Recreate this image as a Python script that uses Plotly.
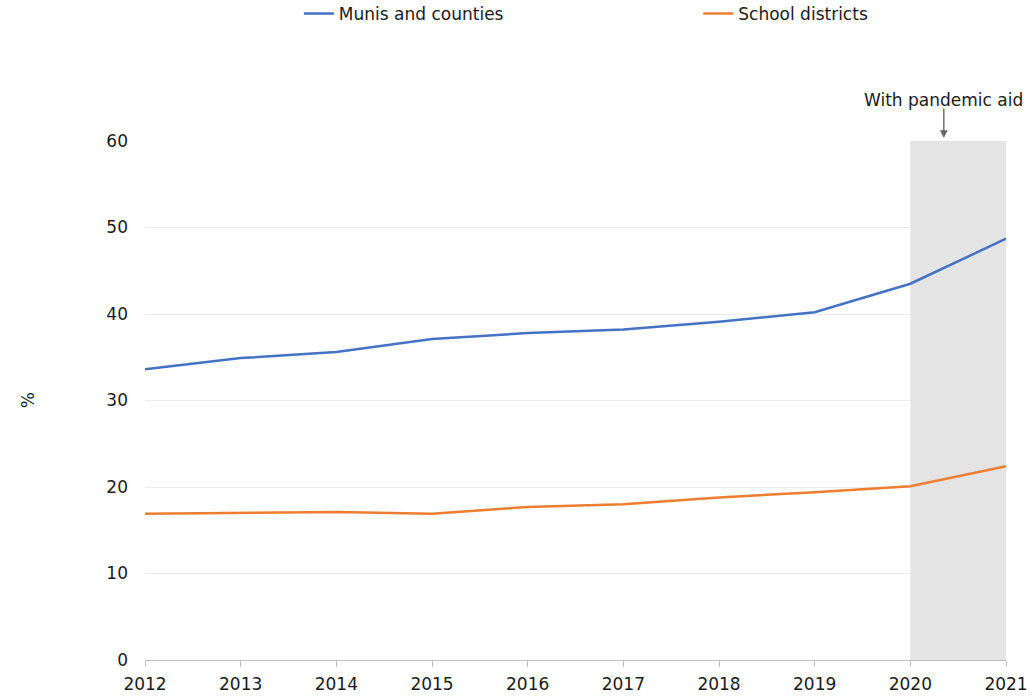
import plotly.graph_objects as go

years = [2012, 2013, 2014, 2015, 2016, 2017, 2018, 2019, 2020, 2021]
munis = [33.6, 34.9, 35.6, 37.1, 37.8, 38.2, 39.1, 40.2, 43.5, 48.7]
schools = [16.9, 17.0, 17.1, 16.9, 17.7, 18.0, 18.8, 19.4, 20.1, 22.4]
series_names = ["Munis and counties", "School districts"]
y_ticks = [0, 10, 20, 30, 40, 50, 60]

FONT = "DejaVu Sans"
FS = 17
TXT = "#1a1a1a"

fig = go.Figure()
fig.add_trace(go.Scatter(x=years, y=munis, mode="lines", name=series_names[0],
                         line=dict(color="#4472C4", width=2.5), legend="legend"))
fig.add_trace(go.Scatter(x=years, y=schools, mode="lines", name=series_names[1],
                         line=dict(color="#ED7D31", width=2.5), legend="legend2"))

fig.add_shape(type="rect", xref="x", yref="y", x0=2020, x1=2021, y0=0, y1=60,
              fillcolor="#e4e4e4", line=dict(width=0), layer="between")

fig.add_annotation(x=2020.35, y=1.0, xref="x", yref="paper", yshift=3, text="", showarrow=True,
                   ax=0, ay=-31, arrowhead=2, arrowsize=1.1, arrowwidth=1.4, arrowcolor="#666666")
fig.add_annotation(x=2020.35, y=1.0, xref="x", yref="paper", yshift=53, text="With pandemic aid",
                   showarrow=False, font=dict(family=FONT, size=FS, color=TXT))
fig.add_annotation(x=-0.150, y=0.5, xref="paper", yref="paper", text="%", textangle=-90,
                   showarrow=False, font=dict(family=FONT, size=FS, color=TXT))

leg_common = dict(orientation="h", yanchor="middle", xanchor="left",
                  font=dict(family=FONT, size=FS, color=TXT), bgcolor="rgba(0,0,0,0)")

fig.update_layout(
    width=1030, height=696,
    margin=dict(l=145, r=24, t=141, b=36, autoexpand=False),
    paper_bgcolor="white", plot_bgcolor="white",
    font=dict(family=FONT, size=FS, color=TXT),
    showlegend=True,
    legend=dict(x=0.1787, y=1.245, **leg_common),
    legend2=dict(x=0.6426, y=1.245, **leg_common),
    xaxis=dict(range=[2012, 2021], tickvals=years, ticktext=[str(y) for y in years],
               showgrid=False, showline=True, linecolor="#bfbfbf", linewidth=1,
               ticks="outside", ticklen=6, tickcolor="#bfbfbf", zeroline=False,
               ticklabelstandoff=3, tickfont=dict(family=FONT, size=FS, color=TXT)),
    yaxis=dict(range=[0, 60], tickvals=y_ticks, showgrid=True, gridcolor="#ebebeb", gridwidth=1,
               zeroline=False, showline=False, ticks="", ticklabelstandoff=16,
               tickfont=dict(family=FONT, size=FS, color=TXT)),
)

fig.write_html("out.html", config={"displayModeBar": False},
               post_script="document.body.style.margin='0px';document.body.style.overflow='hidden';")
